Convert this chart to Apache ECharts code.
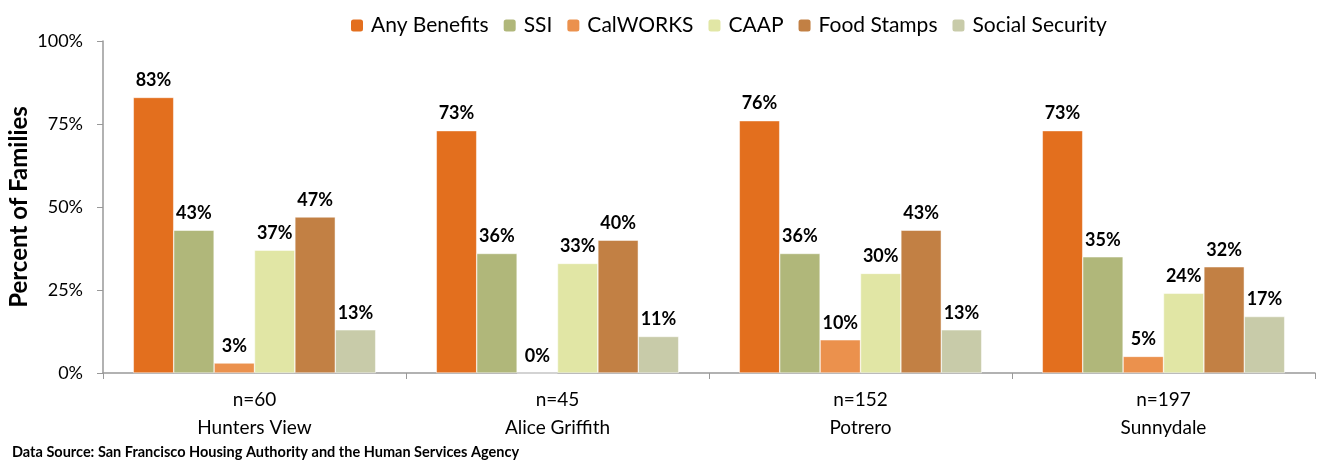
<!DOCTYPE html>
<html><head><meta charset="utf-8">
<script src="https://cdn.jsdelivr.net/npm/echarts@6/dist/echarts.min.js"></script>
<style>html,body{margin:0;padding:0;background:#fff}#c{width:1317px;height:463px}</style>
</head><body><div id="c"></div>
<script>
const categories = ['n=60\nHunters View', 'n=45\nAlice Griffith', 'n=152\nPotrero', 'n=197\nSunnydale'];
const seriesNames = ['Any Benefits', 'SSI', 'CalWORKS', 'CAAP', 'Food Stamps', 'Social Security'];
const anyBenefits = [83, 73, 76, 73];
const ssi = [43, 36, 36, 35];
const calworks = [3, 0, 10, 5];
const caap = [37, 33, 30, 24];
const foodStamps = [47, 40, 43, 32];
const socialSecurity = [13, 11, 13, 17];
const yTicks = [0, 25, 50, 75, 100];
const colors = ['#E36F1E', '#B0B77A', '#EB914D', '#E1E6A5', '#C28044', '#C8CBA9'];
const values = [anyBenefits, ssi, calworks, caap, foodStamps, socialSecurity];
const font = 'Lato, "Open Sans", sans-serif';

const chart = echarts.init(document.getElementById('c'));
chart.setOption({
  animation: false,
  color: colors,
  textStyle: {fontFamily: font},
  legend: {
    top: 15, left: 349, padding: 0, itemWidth: 14, itemHeight: 14, itemGap: 13,
    textStyle: {fontSize: 21, color: '#000', fontFamily: font, padding: [0, 0, 0, 2]},
    data: seriesNames
  },
  grid: {left: 103, right: 2, top: 41, bottom: 90, containLabel: false, outerBoundsMode: 'none'},
  xAxis: {
    type: 'category', data: categories,
    axisLine: {lineStyle: {color: '#999', width: 1.5}},
    axisTick: {show: true, length: 6, lineStyle: {color: '#999'}},
    axisLabel: {fontSize: 19, color: '#000', lineHeight: 28, margin: 13, fontFamily: font}
  },
  yAxis: {
    type: 'value', min: 0, max: 100, interval: 25,
    name: 'Percent of Families', nameLocation: 'middle', nameGap: 72, nameMoveOverlap: false,
    nameTextStyle: {fontSize: 24, fontWeight: 'bold', color: '#000', fontFamily: font},
    axisLine: {show: true, lineStyle: {color: '#999', width: 1.5}},
    axisTick: {show: true, length: 6, lineStyle: {color: '#999'}},
    splitLine: {show: false},
    axisLabel: {fontSize: 18, color: '#000', margin: 20, fontFamily: font,
      formatter: v => yTicks.includes(v) ? v + '%' : ''}
  },
  series: seriesNames.map((n, i) => ({
    name: n, type: 'bar', data: values[i],
    barGap: '0%', barCategoryGap: '20%',
    itemStyle: {color: colors[i], borderColor: '#fff', borderWidth: 0.5},
    label: {show: true, position: 'top', distance: 8, formatter: '{c}%',
      fontSize: 18, fontWeight: 'bold', color: '#000', fontFamily: font}
  })),
  graphic: [{
    type: 'text', left: 12, top: 445,
    style: {text: 'Data Source: San Francisco Housing Authority and the Human Services Agency',
      fontSize: 14.5, fontWeight: 'bold', fill: '#000', fontFamily: font}
  }]
});
</script></body></html>
